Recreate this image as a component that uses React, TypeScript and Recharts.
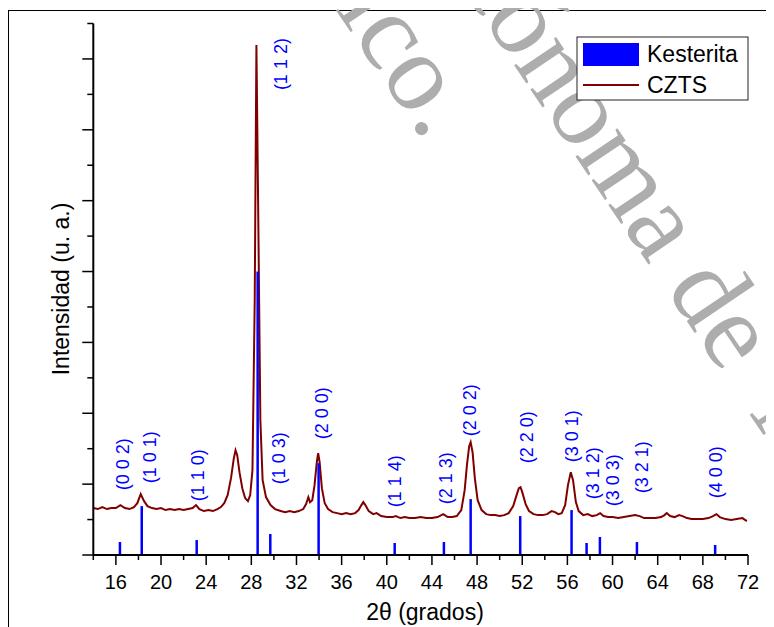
import React from "react";
import { LineChart, Line, XAxis, YAxis, ReferenceLine, ReferenceDot } from "recharts";

// CZTS diffractogram (2θ in degrees, intensity in a.u.)
const twoTheta = [
  14.0, 14.4, 14.8, 15.2, 15.6, 16.0, 16.4, 16.8, 17.2, 17.6, 17.9, 18.2, 18.5, 18.8, 19.2, 19.6,
  20.0, 20.4, 20.8, 21.2, 21.6, 22.0, 22.4, 22.8, 23.1, 23.4, 23.8, 24.2, 24.6, 25.0, 25.3, 25.6,
  25.9, 26.2, 26.45, 26.6, 26.75, 26.95, 27.2, 27.45, 27.7, 27.9, 28.1, 28.3, 28.45, 28.6, 28.8,
  29.0, 29.3, 29.7, 30.1, 30.6, 31.0, 31.4, 31.8, 32.2, 32.6, 32.85, 33.05, 33.2, 33.4, 33.6, 33.8,
  33.92, 34.05, 34.25, 34.5, 34.8, 35.2, 35.6, 36.0, 36.4, 36.8, 37.2, 37.5, 37.75, 37.92, 38.1,
  38.4, 38.8, 39.1, 39.5, 40.0, 40.5, 40.8, 41.2, 41.6, 42.0, 42.5, 43.0, 43.5, 44.0, 44.5, 45.0,
  45.4, 45.8, 46.2, 46.6, 46.9, 47.1, 47.3, 47.43, 47.6, 47.8, 48.05, 48.4, 48.8, 49.2, 49.6, 50.0,
  50.4, 50.8, 51.2, 51.5, 51.7, 51.85, 52.0, 52.3, 52.6, 53.0, 53.4, 53.8, 54.2, 54.6, 54.9, 55.2,
  55.5, 55.8, 56.05, 56.3, 56.5, 56.75, 57.0, 57.4, 57.8, 58.2, 58.6, 58.9, 59.2, 59.6, 60.0, 60.5,
  61.0, 61.5, 62.0, 62.4, 62.8, 63.3, 63.8, 64.3, 64.6, 64.8, 65.1, 65.5, 65.9, 66.2, 66.6, 67.0,
  67.5, 68.0, 68.5, 68.9, 69.2, 69.5, 70.0, 70.5, 71.0, 71.5, 71.9,
];
const cztsIntensity = [
  662, 648, 676, 648, 662, 662, 704, 662, 648, 676, 732, 859, 760, 690, 662, 648,
  662, 634, 648, 634, 648, 634, 648, 662, 704, 648, 620, 634, 620, 648, 676, 732,
  845, 1084, 1366, 1478, 1408, 1169, 943, 803, 760, 845, 1197, 3590, 7195, 4998, 1901,
  1056, 817, 704, 648, 620, 605, 620, 605, 620, 648, 718, 817, 746, 774, 986, 1309,
  1436, 1309, 943, 732, 648, 605, 591, 577, 591, 577, 591, 634, 704, 746, 704,
  620, 577, 591, 549, 535, 535, 549, 521, 535, 521, 521, 535, 521, 521, 535, 577,
  535, 535, 549, 634, 915, 1267, 1535, 1591, 1450, 1084, 774, 634, 577, 563, 563, 549,
  563, 591, 690, 845, 943, 957, 887, 718, 620, 577, 563, 563, 577, 620, 605, 577,
  591, 704, 986, 1169, 1056, 746, 620, 563, 577, 549, 563, 591, 549, 535, 535, 521,
  535, 549, 563, 549, 521, 521, 521, 535, 563, 591, 549, 535, 563, 549, 521, 507,
  507, 507, 521, 549, 577, 535, 507, 493, 507, 521, 479,
];

// Kesterita reference pattern (sticks)
const kestPos = [16.36, 18.29, 23.16, 28.56, 29.68, 33.96, 40.7, 45.06, 47.43, 51.82, 56.37, 57.7, 58.88, 62.16, 69.09];
const kestInt = [183, 690, 211, 4000, 296, 1296, 169, 183, 789, 549, 634, 169, 254, 183, 141];

// Miller index labels
const hklText = ["(0 0 2)", "(1 0 1)", "(1 1 0)", "(1 1 2)", "(1 0 3)", "(2 0 0)", "(1 1 4)", "(2 1 3)", "(2 0 2)", "(2 2 0)", "(3 0 1)", "(3 1 2)", "(3 0 3)", "(3 2 1)", "(4 0 0)"];
const hklX = [16.63, 19.02, 23.27, 30.63, 30.45, 34.26, 40.72, 45.24, 47.37, 52.42, 56.4, 58.26, 60.04, 62.6, 69.15];
const hklY = [1281, 1380, 1126, 6927, 1366, 1999, 1042, 1084, 2042, 1661, 1676, 1155, 1056, 1239, 1169];

const xTicks = [14, 16, 18, 20, 22, 24, 26, 28, 30, 32, 34, 36, 38, 40, 42, 44, 46, 48, 50, 52, 54, 56, 58, 60, 62, 64, 66, 68, 70, 72];
const yTicks = [0, 500, 1000, 1500, 2000, 2500, 3000, 3500, 4000, 4500, 5000, 5500, 6000, 6500, 7000, 7500];

const seriesNames = ["Kesterita", "CZTS"];
const xTitle = "2θ (grados)";
const yTitle = "Intensidad (u. a.)";

const FONT = "'Liberation Sans', Arial, sans-serif";
const data = twoTheta.map((t, i) => ({ t, czts: cztsIntensity[i] }));

const XTick = (props: any) => {
  const { x, y, payload } = props;
  const major = payload.value % 4 === 0;
  return (
    <g>
      <line x1={x} x2={x} y1={y} y2={y + (major ? 10 : 5)} stroke="#000" strokeWidth={1.5} />
      {major && (
        <text x={x} y={y + 34} textAnchor="middle" fontSize={20} fontFamily={FONT} fill="#000">
          {payload.value}
        </text>
      )}
    </g>
  );
};

const YTick = (props: any) => {
  const { x, y, payload } = props;
  const major = payload.value % 1000 === 0;
  return <line x1={x - (major ? 11 : 6)} x2={x} y1={y} y2={y} stroke="#000" strokeWidth={1.5} />;
};

const HklLabel = (text: string) => (props: any) => {
  const { cx, cy } = props;
  return (
    <text
      x={cx}
      y={cy}
      transform={`rotate(-90, ${cx}, ${cy})`}
      textAnchor="middle"
      dominantBaseline="central"
      fontSize={18}
      fontFamily={FONT}
      fill="#0000FF"
    >
      {text}
    </text>
  );
};

export default function App() {
  return (
    <div style={{ position: "relative", width: 766, height: 619, overflow: "hidden", background: "#fff" }}>
      <div
        style={{
          position: "absolute",
          left: 0,
          top: 2,
          width: 2000,
          height: 2000,
          borderTop: "1px solid #000",
          borderLeft: "1px solid #000",
        }}
      />
      <svg width={766} height={619} style={{ position: "absolute", left: 0, top: 0 }}>
        <g
          transform="translate(-9, 0) rotate(56)"
          fontFamily="'Liberation Serif', 'Times New Roman', serif"
          fontSize={110}
          fill="#ADADAD"
        >
          <text x={350} y={-278} textAnchor="end">México.</text>
          <text x={113} y={-395}>
            Autónoma de
            <tspan dx={45}>México</tspan>
          </text>
        </g>
      </svg>
      <div style={{ position: "absolute", left: 0, top: 0 }}>
        <LineChart width={766} height={619} data={data} margin={{ top: 15.5, right: 26, left: 0, bottom: 0 }}>
          <XAxis
            dataKey="t"
            type="number"
            domain={[14, 72]}
            ticks={xTicks}
            interval={0}
            height={72}
            tickSize={0}
            tickMargin={0}
            tickLine={false}
            axisLine={{ stroke: "#000", strokeWidth: 2 }}
            tick={<XTick />}
            allowDataOverflow
          />
          <YAxis
            type="number"
            domain={[0, 7500]}
            ticks={yTicks}
            interval={0}
            width={85.3}
            tickSize={0}
            tickMargin={0}
            tickLine={false}
            axisLine={{ stroke: "#000", strokeWidth: 2 }}
            tick={<YTick />}
            allowDataOverflow
          />
          <Line
            type="linear"
            dataKey="czts"
            name={seriesNames[1]}
            stroke="#800000"
            strokeWidth={2}
            dot={false}
            isAnimationActive={false}
          />
          {kestPos.map((p, i) => (
            <ReferenceLine
              key={"k" + i}
              segment={[{ x: p, y: 0 }, { x: p, y: kestInt[i] }]}
              stroke="#0000FF"
              strokeWidth={2.5}
            />
          ))}
          {hklText.map((t, i) => (
            <ReferenceDot key={"h" + i} x={hklX[i]} y={hklY[i]} r={0} shape={HklLabel(t)} />
          ))}
        </LineChart>
      </div>
      <svg width={766} height={619} style={{ position: "absolute", left: 0, top: 0, pointerEvents: "none" }}>
        <text
          x={53}
          y={281}
          transform="rotate(-90, 53, 281)"
          textAnchor="middle"
          dominantBaseline="central"
          fontSize={23}
          fontFamily={FONT}
          fill="#000"
        >
          {yTitle}
        </text>
        <text x={417} y={612} textAnchor="middle" fontSize={23} fontFamily={FONT} fill="#000">
          {xTitle}
        </text>
        <rect x={569} y={29} width={171} height={63} fill="#fff" stroke="#222" strokeWidth={1} />
        <rect x={575} y={35} width={56} height={23} fill="#0000FF" />
        <line x1={575} x2={631} y1={77} y2={77} stroke="#800000" strokeWidth={2} />
        <text x={639} y={46} dominantBaseline="central" fontSize={23} fontFamily={FONT} fill="#000">
          {seriesNames[0]}
        </text>
        <text x={639} y={77} dominantBaseline="central" fontSize={23} fontFamily={FONT} fill="#000">
          {seriesNames[1]}
        </text>
      </svg>
    </div>
  );
}
